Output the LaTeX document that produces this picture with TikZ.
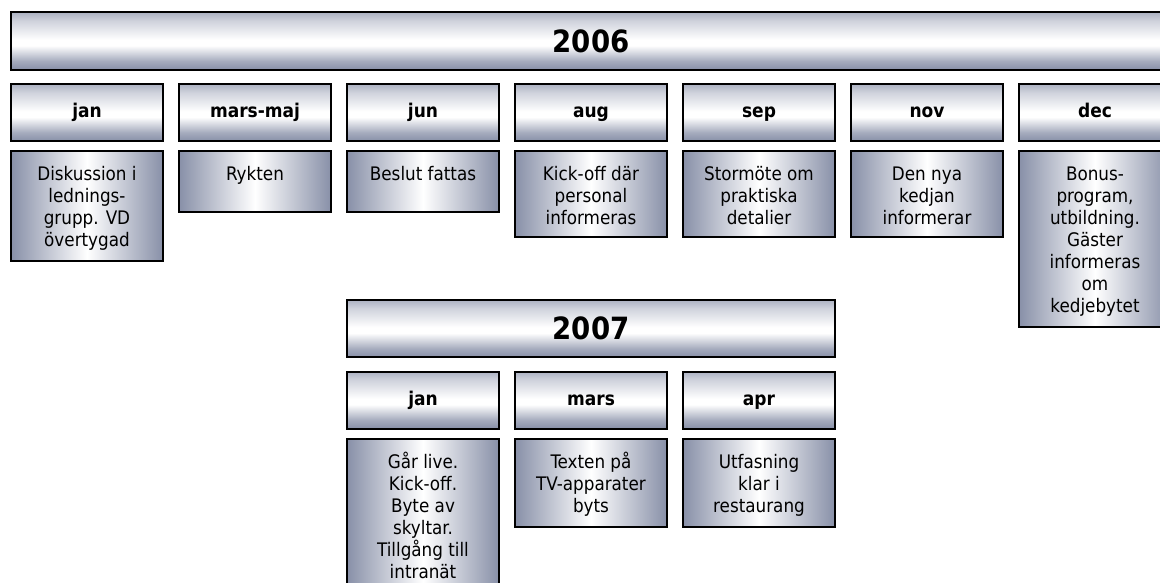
\documentclass[tikz,border=0pt]{standalone}
\usepackage{fontspec}
\setmainfont{DejaVu Sans Condensed}
\definecolor{edgeblue}{RGB}{136,144,168}
% vertical shading of the year and month boxes (the box spans 25bp to 75bp)
\pgfdeclareverticalshading{monthshade}{100bp}{color(0bp)=(edgeblue); color(25bp)=(edgeblue); color(32.5bp)=(edgeblue!75); color(46bp)=(white); color(51bp)=(white); color(67.5bp)=(edgeblue!40); color(75bp)=(edgeblue!70); color(100bp)=(edgeblue!70)}
% extra room above the first line of an event
\newcommand{\toprow}{\rule{0pt}{14pt}}

\begin{document}
\begin{tikzpicture}[
    x=0.75pt, y=-0.75pt,
    % year banners and month headers
    yearbox/.style={draw=black, line width=1.5pt, shading=monthshade, minimum height=43pt, inner sep=0pt, text height=17pt, text depth=0pt, font=\fontsize{23}{26}\selectfont\bfseries},
    monthbox/.style={draw=black, line width=1.5pt, shading=monthshade, minimum width=114pt, minimum height=42.75pt, inner sep=0pt, text height=10.5pt, text depth=3pt, font=\fontsize{14.2}{16}\selectfont\bfseries},
    % event boxes below the months
    eventbox/.style={draw=black, line width=1.5pt, left color=edgeblue, right color=edgeblue, middle color=white, anchor=north, minimum width=114pt, inner xsep=0pt, inner ysep=8pt, align=center, execute at end node=\rule[-1.45pt]{0pt}{1pt}, font=\fontsize{14}{16.5}\selectfont},
    onerow/.style={text depth=15.5pt}
]
    \useasboundingbox (0,0) rectangle (1160,582);

    % 2006
    \node [yearbox, minimum width=870pt] (y6) at (591, 41) {2006};
    \node [monthbox] (jan6) at (87, 112.5) {jan};
    \node [monthbox] (marsmaj) at (255, 112.5) {mars-maj};
    \node [monthbox] (jun) at (423, 112.5) {jun};
    \node [monthbox] (aug) at (591, 112.5) {aug};
    \node [monthbox] (sep) at (759, 112.5) {sep};
    \node [monthbox] (nov) at (927, 112.5) {nov};
    \node [monthbox] (dec) at (1095, 112.5) {dec};

    \node [eventbox] (ejan6) at (87, 150) {\toprow Diskussion i\\lednings-\\grupp. VD\\övertygad};
    \node [eventbox, onerow] (emarsmaj) at (255, 150) {\toprow Rykten};
    \node [eventbox, onerow] (ejun) at (423, 150) {\toprow Beslut fattas};
    \node [eventbox] (eaug) at (591, 150) {\toprow Kick-off där\\personal\\informeras};
    \node [eventbox] (esep) at (759, 150) {\toprow Stormöte om\\praktiska\\detalier};
    \node [eventbox] (enov) at (927, 150) {\toprow Den nya\\kedjan\\informerar};
    \node [eventbox] (edec) at (1095, 150) {\toprow Bonus-\\program,\\utbildning.\\Gäster\\informeras\\om\\kedjebytet};

    % 2007
    \node [yearbox, minimum width=366pt] (y7) at (591, 328.5) {2007};
    \node [monthbox] (jan7) at (423, 400) {jan};
    \node [monthbox] (mars) at (591, 400) {mars};
    \node [monthbox] (apr) at (759, 400) {apr};

    \node [eventbox] (ejan7) at (423, 438) {\toprow Går live.\\Kick-off.\\Byte av\\skyltar.\\Tillgång till\\intranät};
    \node [eventbox] (emars) at (591, 438) {\toprow Texten på\\TV-apparater\\byts};
    \node [eventbox] (eapr) at (759, 438) {\toprow Utfasning\\klar i\\restaurang};
\end{tikzpicture}
\end{document}
